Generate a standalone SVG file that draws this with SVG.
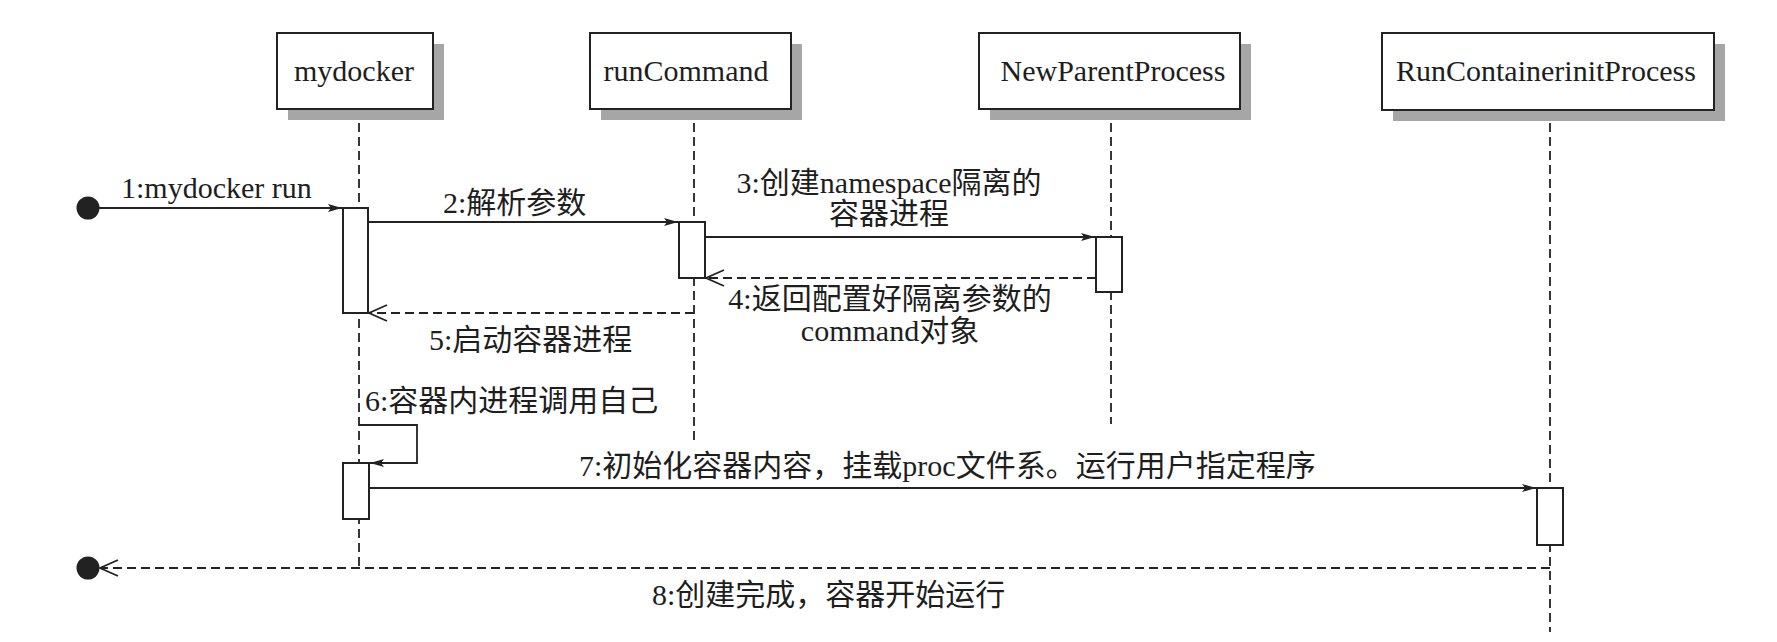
<svg xmlns="http://www.w3.org/2000/svg" width="1777" height="642" viewBox="0 0 1777 642">
<defs>
<style>
.box{fill:#fff;stroke:#222;stroke-width:2}
.shadow{fill:#a6a6a6}
.act{fill:#fff;stroke:#222;stroke-width:2}
.life{stroke:#222;stroke-width:1.8;stroke-dasharray:9 5;fill:none}
.msg{stroke:#222;stroke-width:1.8;fill:none}
.ret{stroke:#222;stroke-width:1.8;fill:none;stroke-dasharray:9 5}
text{font-family:"Liberation Serif","Noto Sans CJK SC",serif;font-size:30px;fill:#1e1e1e}
.lbl{font-size:30px}
</style>
<marker id="fill" markerUnits="userSpaceOnUse" markerWidth="16" markerHeight="10" refX="14" refY="5" orient="auto">
<path d="M0,1 L14,5 L0,9 L3,5 z" fill="#222"/>
</marker>
<marker id="open" markerUnits="userSpaceOnUse" markerWidth="22" markerHeight="20" refX="19" refY="10" orient="auto">
<path d="M1,2 L19,10 L1,18" fill="none" stroke="#222" stroke-width="1.8"/>
</marker>
</defs>
<rect width="1777" height="642" fill="#fff"/>

<g id="lifelines">
<line class="life" x1="359" y1="123" x2="359" y2="568"/>
<line class="life" x1="694" y1="123" x2="694" y2="440"/>
<line class="life" x1="1111" y1="123" x2="1111" y2="424"/>
<line class="life" x1="1550" y1="123" x2="1550" y2="632"/>
</g>

<g id="mydocker">
<rect class="shadow" x="288" y="44" width="156" height="76"/>
<rect class="box" x="277" y="33" width="156" height="76"/>
<text x="354" y="81" text-anchor="middle">mydocker</text>
</g>
<g id="runCommand">
<rect class="shadow" x="601" y="44" width="201" height="76"/>
<rect class="box" x="590" y="33" width="201" height="76"/>
<text x="686" y="81" text-anchor="middle">runCommand</text>
</g>
<g id="NewParentProcess">
<rect class="shadow" x="990" y="44" width="261" height="76"/>
<rect class="box" x="979" y="33" width="261" height="76"/>
<text x="1113" y="81" text-anchor="middle">NewParentProcess</text>
</g>
<g id="RunContainerinitProcess">
<rect class="shadow" x="1393" y="44" width="332" height="77"/>
<rect class="box" x="1382" y="33" width="332" height="77"/>
<text x="1546" y="81" text-anchor="middle">RunContainerinitProcess</text>
</g>

<g id="start">
<circle cx="88" cy="208" r="11.5" fill="#222"/>
</g>
<g id="end">
<circle cx="88" cy="568" r="11.5" fill="#222"/>
</g>

<g id="activations">
<rect class="act" x="343" y="208" width="25" height="105"/>
<rect class="act" x="679" y="222" width="26" height="56"/>
<rect class="act" x="1096" y="237" width="26" height="55"/>
<rect class="act" x="343" y="463" width="26" height="56"/>
<rect class="act" x="1537" y="488" width="26" height="57"/>
</g>

<g id="connectors">
<line class="msg" x1="99" y1="208" x2="342" y2="208" marker-end="url(#fill)"/>
<line class="msg" x1="368" y1="222" x2="678" y2="222" marker-end="url(#fill)"/>
<line class="msg" x1="705" y1="237" x2="1095" y2="237" marker-end="url(#fill)"/>
<line class="ret" x1="1096" y1="278" x2="706" y2="278" marker-end="url(#open)"/>
<line class="ret" x1="694" y1="313" x2="369" y2="313" marker-end="url(#open)"/>
<polyline class="msg" points="359,425 417,425 417,463 370,463" marker-end="url(#fill)"/>
<line class="msg" x1="369" y1="488" x2="1536" y2="488" marker-end="url(#fill)"/>
<line class="ret" x1="1550" y1="568" x2="100" y2="568" marker-end="url(#open)"/>

<text class="lbl" x="121" y="198">1:mydocker run</text>
<text class="lbl" x="443" y="213">2:解析参数</text>
<text class="lbl" x="889" y="193" text-anchor="middle">3:创建namespace隔离的</text>
<text class="lbl" x="889" y="224" text-anchor="middle">容器进程</text>
<text class="lbl" x="890" y="309" text-anchor="middle">4:返回配置好隔离参数的</text>
<text class="lbl" x="890" y="341" text-anchor="middle">command对象</text>
<text class="lbl" x="429" y="350">5:启动容器进程</text>
<text class="lbl" x="365" y="411">6:容器内进程调用自己</text>
<text class="lbl" x="579" y="476">7:初始化容器内容，挂载proc文件系。运行用户指定程序</text>
<text class="lbl" x="652" y="605">8:创建完成，容器开始运行</text>
</g>
</svg>
